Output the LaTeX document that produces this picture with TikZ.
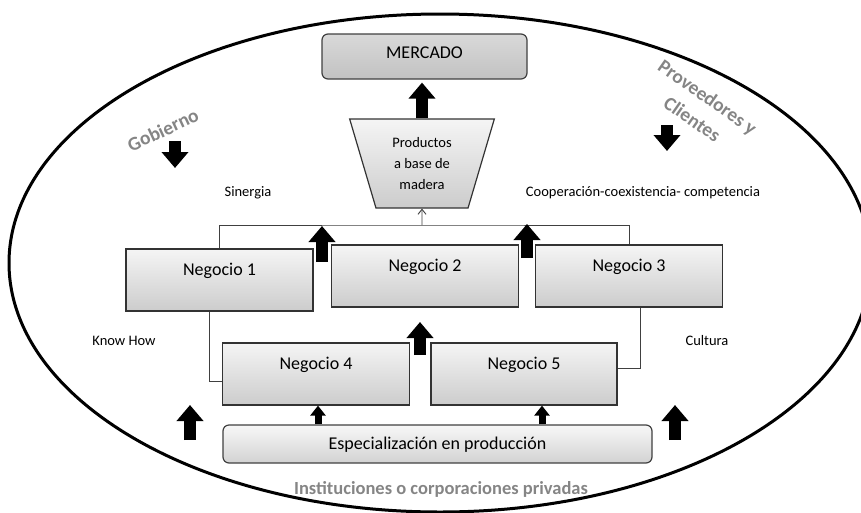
\documentclass[tikz,border=0pt]{standalone}
\usepackage{fontspec}
\setmainfont{Carlito}
\usetikzlibrary{arrows.meta,shapes.geometric}
\newcommand{\bigtxt}{\fontsize{18}{21}\selectfont}
\newcommand{\smalltxt}{\fontsize{14.5}{21}\selectfont}
\newcommand{\graytxt}{\fontsize{19.5}{27}\selectfont\bfseries}
\begin{document}
\begin{tikzpicture}[x=1pt,y=-1pt,box/.style={draw=black!80, line width=1.2pt, top color=gray!8, bottom color=gray!40, minimum width=187pt, inner sep=0pt, text height=26pt, text depth=36pt, font=\bigtxt},bar/.style={draw=black!75, line width=1.2pt, rounded corners=6pt, inner sep=0pt, font=\bigtxt},link/.style={draw=black!75, line width=0.9pt},bigup/.style={line width=12pt, -{Triangle[width=26pt,length=16pt]}},smallup/.style={line width=7pt, -{Triangle[width=15pt,length=10pt]}},note/.style={font=\smalltxt},ghost/.style={font=\graytxt, text=black!48, align=center}]
\useasboundingbox (0,0) rectangle (861,512);
\draw[line width=3pt] (440,263) ellipse [x radius=431, y radius=249];
% top: market and products
\node[bar, top color=gray!30, bottom color=gray!48, minimum width=205pt, text height=24pt, text depth=21pt] (mercado) at (424.5,56.5) {MERCADO};
\node[trapezium, trapezium left angle=108, trapezium right angle=108, trapezium stretches=true, draw=black!80, line width=1.2pt, top color=gray!8, bottom color=gray!40, minimum width=145pt, minimum height=89pt, inner sep=0pt, align=center, font=\smalltxt] (prod) at (422,163.5) {Productos\\a base de\\madera};
\draw[bigup, shorten >=3pt] (prod.north) -- (prod.north |- mercado.south);
% businesses
\node[box] (n1) at (219.5,280) {Negocio 1}; \node[box] (n2) at (425,276) {Negocio 2}; \node[box] (n3) at (629,276) {Negocio 3};
\node[box] (n4) at (316,374) {Negocio 4}; \node[box, minimum width=186pt] (n5) at (524,374) {Negocio 5};
\node[bar, top color=gray!6, bottom color=gray!35, minimum width=429pt, text height=24pt, text depth=14pt] (esp) at (437.5,444) {Especialización en producción};
\coordinate (hub) at (422,225);
\draw[link] (n1.north) |- (hub) -| (n3.north);
\draw[link, -{Straight Barb[length=5pt,width=8pt]}] (hub) -- (prod.south);
\draw[link] ([xshift=-10pt]n1.south) |- ([yshift=-7pt]n4.west);
\draw[link] ([xshift=11pt]n3.south) |- ([yshift=6pt]n5.east);
\coordinate (e4) at ([xshift=2pt]n4.south); \coordinate (e5) at ([xshift=18pt]n5.south);
\draw[smallup] (esp.north -| e4) -- (e4); \draw[smallup] (esp.north -| e5) -- (e5);
% block arrows
\draw[bigup] (322,262) -- (322,226); \draw[bigup] (527,258) -- (527,224); \draw[bigup] (420,355) -- (420,322);
\draw[bigup] (190,440) -- (190,405); \draw[bigup] (675,440) -- (675,405);
\draw[bigup] (175,141) -- (175,168); \draw[bigup] (667,125) -- (667,151);
% labels
\node[note] (sin) at (248,193) {Sinergia}; \node[note] (coop) at (643,193) {Cooperación-coexistencia- competencia};
\node[note] (know) at (124,341) {Know How}; \node[note] (cult) at (707,341) {Cultura};
\node[ghost, rotate=25] (gob) at (163,130) {Gobierno};
\node[ghost, rotate=-35] (prov) at (700,108) {Proveedores y\\Clientes};
\node[ghost, font=\fontsize{18.5}{21}\selectfont\bfseries] (inst) at (441,489) {Instituciones o corporaciones privadas};
\end{tikzpicture}
\end{document}
